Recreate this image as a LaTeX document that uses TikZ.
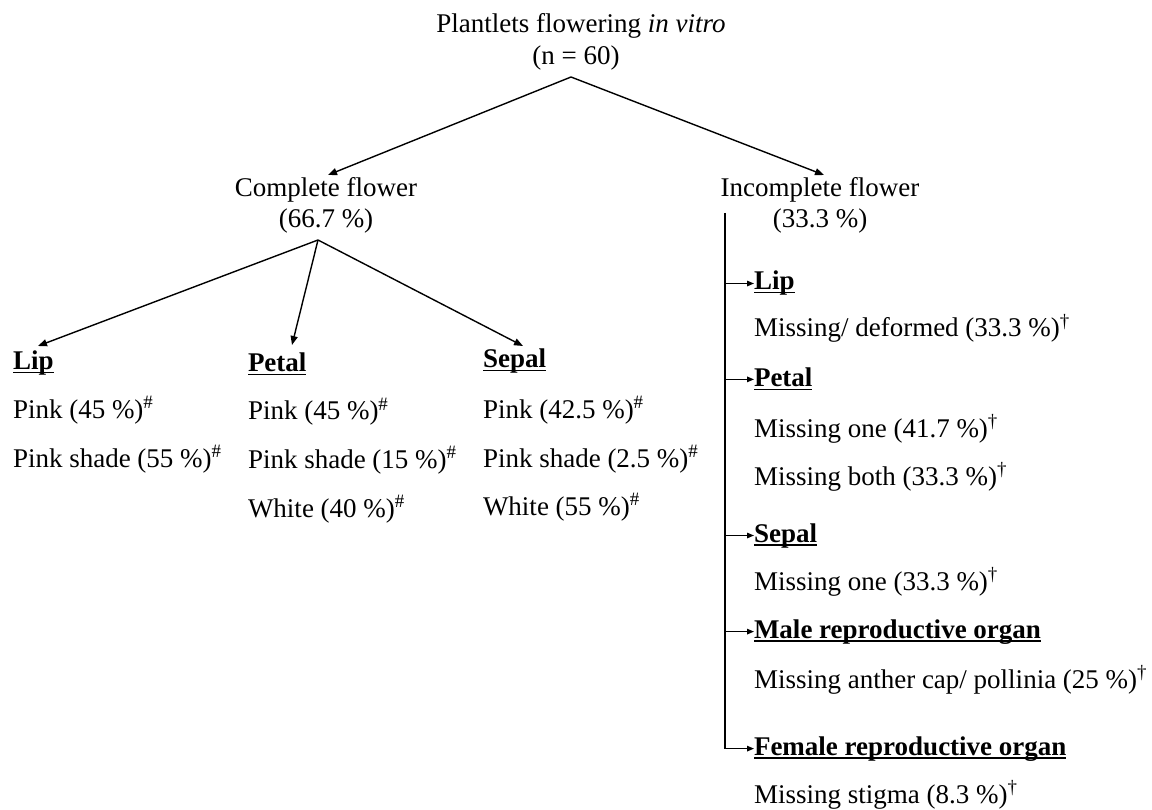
\documentclass[tikz,border=0pt]{standalone}
\usepackage{fontspec}
\setmainfont{Liberation Serif}
\usetikzlibrary{arrows.meta}
\newcommand\hdul[1]{\setbox0\hbox{\textbf{#1}}\rlap{\rule[-3.5pt]{\wd0}{1.7pt}}\box0}
\newcommand\hs{\textsuperscript{\#}}
\newcommand\dg{\textsuperscript{†}}
\tikzset{
  txt/.style={inner sep=0pt, outer sep=0pt, font=\fontsize{27}{31}\selectfont},
  lft/.style={txt, anchor=base west},
  ctr/.style={txt, anchor=base},
  conn/.style={line width=1.4pt, -{Triangle[length=9pt,width=7pt]}},
  tick/.style={line width=1.4pt, -{Triangle[length=7pt,width=5.5pt]}},
}
\begin{document}
\begin{tikzpicture}[x=1pt,y=-1pt]
\useasboundingbox[fill=white] (0,0) rectangle (1152,810);

% top
\node[ctr] (title) at (581,33) {Plantlets flowering \textit{in vitro}};
\node[ctr] (n60) at (576,65) {(n = 60)};
\coordinate (apex) at (571,77);

\node[ctr] (cf) at (326,197) {Complete flower};
\node[ctr] (cfp) at (326,228) {(66.7 \%)};
\node[ctr] (inf) at (820,197) {Incomplete flower};
\node[ctr] (infp) at (820,228) {(33.3 \%)};

\coordinate (tcf) at (328,175);
\coordinate (tinf) at (824,175);
\draw[conn] (apex) -- (tcf);
\draw[conn] (apex) -- (tinf);

% complete flower branches
\coordinate (apex2) at (318,240);
\node[lft] (llip) at (13,370) {\hdul{Lip}};
\node[lft] (llip1) at (13,418) {Pink (45 \%)\hs};
\node[lft] (llip2) at (13,467) {Pink shade (55 \%)\hs};

\node[lft] (lpet) at (248,372) {\hdul{Petal}};
\node[lft] (lpet1) at (248,420) {Pink (45 \%)\hs};
\node[lft] (lpet2) at (248,468) {Pink shade (15 \%)\hs};
\node[lft] (lpet3) at (248,517) {White (40 \%)\hs};

\node[lft] (lsep) at (483,368) {\hdul{Sepal}};
\node[lft] (lsep1) at (483,418) {Pink (42.5 \%)\hs};
\node[lft] (lsep2) at (483,467) {Pink shade (2.5 \%)\hs};
\node[lft] (lsep3) at (483,515) {White (55 \%)\hs};

\coordinate (tlip) at (38,346);
\coordinate (tpet) at (292,345);
\coordinate (tsep) at (523,346);
\draw[conn] (apex2) -- (tlip);
\draw[conn] (apex2) -- (tpet);
\draw[conn] (apex2) -- (tsep);

% incomplete flower branches
\node[lft] (rlip) at (754,290) {\hdul{Lip}};
\node[lft] (rlip1) at (754,337) {Missing/ deformed (33.3 \%)\dg};
\node[lft] (rpet) at (754,387) {\hdul{Petal}};
\node[lft] (rpet1) at (754,437) {Missing one (41.7 \%)\dg};
\node[lft] (rpet2) at (754,485) {Missing both (33.3 \%)\dg};
\node[lft] (rsep) at (754,542) {\hdul{Sepal}};
\node[lft] (rsep1) at (754,590) {Missing one (33.3 \%)\dg};
\node[lft] (rmal) at (754,638) {\hdul{Male reproductive organ}};
\node[lft] (rmal1) at (754,688) {Missing anther cap/ pollinia (25 \%)\dg};
\node[lft] (rfem) at (754,755) {\hdul{Female reproductive organ}};
\node[lft] (rfem1) at (754,803) {Missing stigma (8.3 \%)\dg};

\coordinate (vtop) at (725,213);
\draw[tick] (vtop) |- (rfem.west);
\draw[tick] (vtop |- rlip.west) -- (rlip.west);
\draw[tick] (vtop |- rpet.west) -- (rpet.west);
\draw[tick] (vtop |- rsep.west) -- (rsep.west);
\draw[tick] (vtop |- rmal.west) -- (rmal.west);
\end{tikzpicture}
\end{document}
